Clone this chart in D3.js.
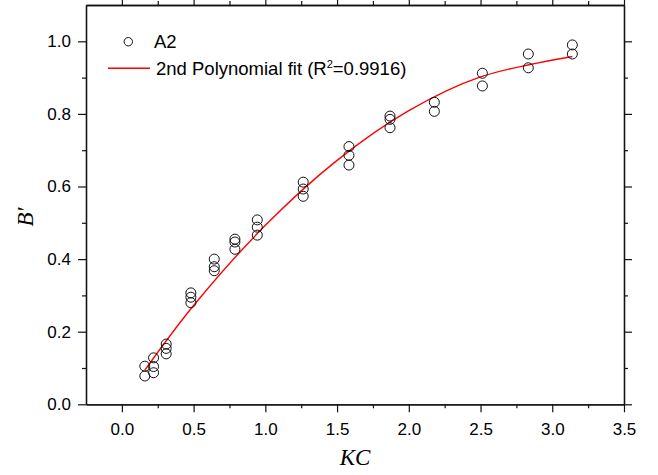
<!DOCTYPE html>
<html>
<head>
<meta charset="utf-8">
<script src="https://cdn.jsdelivr.net/npm/d3@7"></script>
<style>
  body { margin: 0; background: #fff; }
  svg { display: block; }
  .tick text { font-family: "Liberation Sans", Arial, sans-serif; font-size: 17px; fill: #000; }
</style>
</head>
<body>
<svg id="chart" width="658" height="475"></svg>
<script>
// KC values (x) of the A2 measurements, one entry per circle
const kcValues = [
  0.16, 0.16,
  0.221, 0.221, 0.221,
  0.309, 0.309, 0.309,
  0.481, 0.481, 0.481,
  0.644, 0.644, 0.644,
  0.788, 0.788, 0.788,
  0.944, 0.944, 0.944,
  1.264, 1.264, 1.264,
  1.583, 1.583, 1.583,
  1.869, 1.869, 1.869,
  2.178, 2.178,
  2.513, 2.513,
  2.833, 2.833,
  3.14, 3.14
];
// B' values, same order
const bValues = [
  0.078, 0.105,
  0.128, 0.104, 0.087,
  0.166, 0.154, 0.139,
  0.307, 0.295, 0.280,
  0.400, 0.379, 0.368,
  0.455, 0.447, 0.427,
  0.508, 0.488, 0.466,
  0.612, 0.593, 0.573,
  0.710, 0.686, 0.659,
  0.794, 0.785, 0.762,
  0.832, 0.807,
  0.912, 0.877,
  0.965, 0.927,
  0.990, 0.965
];
// fitted curve
const fitX = [0.16, 0.5, 1.0, 1.5, 2.0, 2.5, 3.14];
const fitY = [0.094, 0.272, 0.493, 0.672, 0.809, 0.902, 0.958];

const xTicks = [0, 0.5, 1, 1.5, 2, 2.5, 3, 3.5];
const xMinor = [0.25, 0.75, 1.25, 1.75, 2.25, 2.75, 3.25];
const yTicks = [0, 0.2, 0.4, 0.6, 0.8, 1.0];
const yMinor = [0.1, 0.3, 0.5, 0.7, 0.9];

const legendLabels = ['A2', '2nd Polynomial fit (R', '2', '=0.9916)'];

const L = 86, R = 624, T = 5, B = 404.3;
const svg = d3.select('#chart');

const x = d3.scaleLinear().domain([-0.25, 3.5]).range([L, R]);
const y = d3.scaleLinear().domain([0, 1.1]).range([B, T]);

const fmt = d3.format('.1f');

function styleAxis(g) {
  g.select('.domain').attr('stroke', '#111').attr('stroke-width', 1.3);
  g.selectAll('.tick line').attr('stroke', '#111').attr('stroke-width', 1.2);
}

// bottom axis
svg.append('g').attr('transform', `translate(0,${B})`)
  .call(d3.axisBottom(x).tickValues(xTicks).tickFormat(fmt).tickSize(8).tickSizeOuter(0).tickPadding(11))
  .call(styleAxis);
svg.append('g').attr('transform', `translate(0,${B})`)
  .call(d3.axisBottom(x).tickValues(xMinor).tickFormat('').tickSize(4).tickSizeOuter(0))
  .call(styleAxis);
// top axis
svg.append('g').attr('transform', `translate(0,${T})`)
  .call(d3.axisTop(x).tickValues(xTicks).tickFormat('').tickSize(8).tickSizeOuter(0))
  .call(styleAxis);
svg.append('g').attr('transform', `translate(0,${T})`)
  .call(d3.axisTop(x).tickValues(xMinor).tickFormat('').tickSize(4).tickSizeOuter(0))
  .call(styleAxis);
// left axis
svg.append('g').attr('transform', `translate(${L},0)`)
  .call(d3.axisLeft(y).tickValues(yTicks).tickFormat(fmt).tickSize(8).tickSizeOuter(0).tickPadding(7))
  .call(styleAxis);
svg.append('g').attr('transform', `translate(${L},0)`)
  .call(d3.axisLeft(y).tickValues(yMinor).tickFormat('').tickSize(4).tickSizeOuter(0))
  .call(styleAxis);
// right axis
svg.append('g').attr('transform', `translate(${R},0)`)
  .call(d3.axisRight(y).tickValues(yTicks).tickFormat('').tickSize(8).tickSizeOuter(0))
  .call(styleAxis);
svg.append('g').attr('transform', `translate(${R},0)`)
  .call(d3.axisRight(y).tickValues(yMinor).tickFormat('').tickSize(4).tickSizeOuter(0))
  .call(styleAxis);

// axis titles
svg.append('text')
  .attr('x', 355).attr('y', 465)
  .attr('text-anchor', 'middle')
  .style('font-family', '"Liberation Serif", "Times New Roman", serif')
  .style('font-style', 'italic')
  .style('font-size', '23px')
  .text('KC');
svg.append('text')
  .attr('transform', 'translate(33,217) rotate(-90)')
  .attr('text-anchor', 'middle')
  .style('font-family', '"Liberation Serif", "Times New Roman", serif')
  .style('font-style', 'italic')
  .style('font-size', '23px')
  .text('B\u2032');

// fit curve
const fitData = fitX.map((v, i) => [v, fitY[i]]);
svg.append('path')
  .datum(fitData)
  .attr('fill', 'none')
  .attr('stroke', '#ff0000')
  .attr('stroke-width', 1.4)
  .attr('d', d3.line().x(d => x(d[0])).y(d => y(d[1])).curve(d3.curveCatmullRom));

// data circles
const pts = kcValues.map((v, i) => [v, bValues[i]]);
svg.append('g').selectAll('circle')
  .data(pts)
  .join('circle')
  .attr('cx', d => x(d[0]))
  .attr('cy', d => y(d[1]))
  .attr('r', 5)
  .attr('fill', 'none')
  .attr('stroke', '#111')
  .attr('stroke-width', 1);

// legend
const lg = svg.append('g')
  .style('font-family', '"Liberation Sans", Arial, sans-serif')
  .style('font-size', '18.5px');
lg.append('circle').attr('cx', 128.3).attr('cy', 41.7).attr('r', 4.2)
  .attr('fill', 'none').attr('stroke', '#111').attr('stroke-width', 1);
lg.append('text').attr('x', 154).attr('y', 48.3).text(legendLabels[0]);
lg.append('line').attr('x1', 108).attr('x2', 150).attr('y1', 68.3).attr('y2', 68.3)
  .attr('stroke', '#ff0000').attr('stroke-width', 1.4);
const t2 = lg.append('text').attr('x', 156).attr('y', 75);
t2.append('tspan').text(legendLabels[1]);
t2.append('tspan').attr('dy', -7).style('font-size', '11px').text(legendLabels[2]);
t2.append('tspan').attr('dy', 7).text(legendLabels[3]);
</script>
</body>
</html>
